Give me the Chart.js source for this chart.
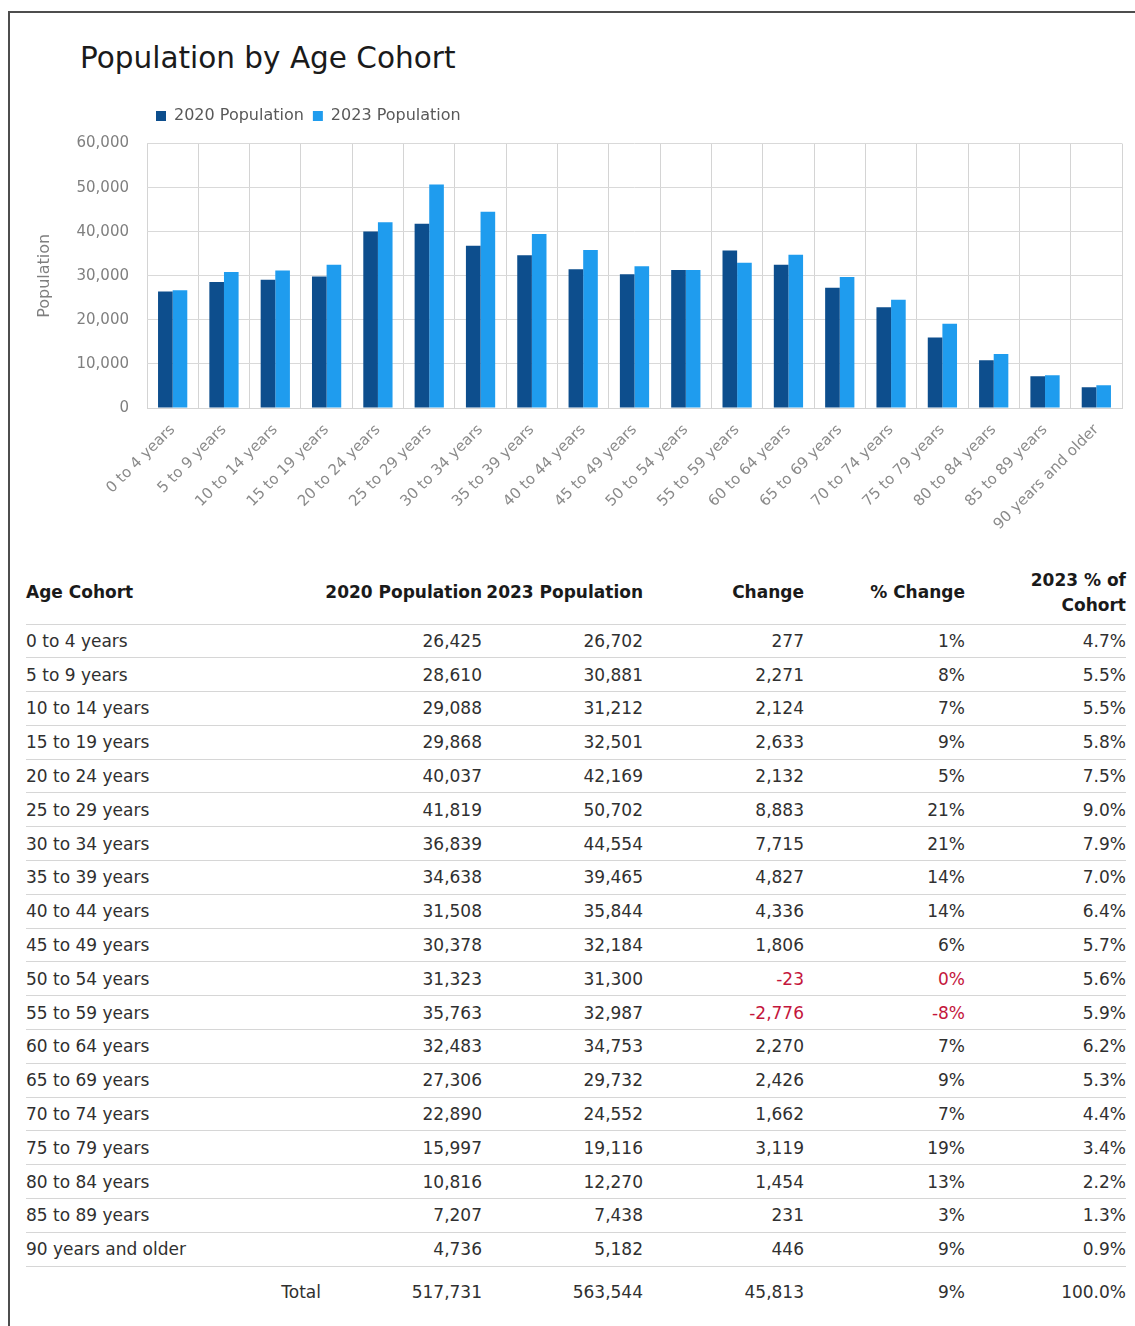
<!DOCTYPE html>
<html>
<head>
<meta charset="utf-8">
<script src="https://cdn.jsdelivr.net/npm/chart.js@4.4.1/dist/chart.umd.min.js"></script>
<style>
  body { margin: 0; background: #fff; width: 1135px; height: 1326px; position: relative; overflow: hidden; font-family: "DejaVu Sans", sans-serif; }
  #frame { position: absolute; left: 8px; top: 11px; width: 1127px; height: 1315px; border-top: 2px solid #4d4d4d; border-left: 2px solid #4d4d4d; box-sizing: border-box; }
  #title { position: absolute; left: 80px; top: 41px; font-size: 29.5px; line-height: 34px; color: #1a1a1a; white-space: nowrap; }
  #chartBox { position: absolute; left: 0; top: 0; width: 1135px; height: 560px; }
  #tbl { position: absolute; left: 26px; top: 562px; width: 1100px; border-collapse: collapse; table-layout: fixed; font-size: 17px; color: #303030; }
  #tbl td, #tbl th { padding: 0; text-align: right; vertical-align: middle; white-space: nowrap; }
  #tbl td:first-child, #tbl th:first-child { text-align: left; }
  #tbl thead tr { height: 62px; }
  #tbl thead th { font-weight: bold; color: #1a1a1a; line-height: 25px; border-bottom: 1px solid #d6d6d6; }
  #tbl tbody tr { height: 33.8px; }
  #tbl tbody td { border-bottom: 1px solid #d6d6d6; }
  #tbl tfoot tr { height: 52px; }
  #tbl tfoot td:first-child { text-align: right; }
  .neg { color: #c4163c; }
</style>
</head>
<body>
<div id="frame"></div>
<div id="title">Population by Age Cohort</div>
<div id="chartBox"><canvas id="chart"></canvas></div>
<table id="tbl">
  <colgroup>
    <col style="width:295px"><col style="width:161px"><col style="width:161px">
    <col style="width:161px"><col style="width:161px"><col style="width:161px">
  </colgroup>
  <thead></thead>
  <tbody></tbody>
  <tfoot></tfoot>
</table>
<script>
const cohorts = ['0 to 4 years', '5 to 9 years', '10 to 14 years', '15 to 19 years', '20 to 24 years',
  '25 to 29 years', '30 to 34 years', '35 to 39 years', '40 to 44 years', '45 to 49 years',
  '50 to 54 years', '55 to 59 years', '60 to 64 years', '65 to 69 years', '70 to 74 years',
  '75 to 79 years', '80 to 84 years', '85 to 89 years', '90 years and older'];
const pop2020 = [26425, 28610, 29088, 29868, 40037, 41819, 36839, 34638, 31508, 30378,
  31323, 35763, 32483, 27306, 22890, 15997, 10816, 7207, 4736];
const pop2023 = [26702, 30881, 31212, 32501, 42169, 50702, 44554, 39465, 35844, 32184,
  31300, 32987, 34753, 29732, 24552, 19116, 12270, 7438, 5182];
const change = [277, 2271, 2124, 2633, 2132, 8883, 7715, 4827, 4336, 1806,
  -23, -2776, 2270, 2426, 1662, 3119, 1454, 231, 446];
const pctChange = ['1%', '8%', '7%', '9%', '5%', '21%', '21%', '14%', '14%', '6%',
  '0%', '-8%', '7%', '9%', '7%', '19%', '13%', '3%', '9%'];
const pctOfCohort = ['4.7%', '5.5%', '5.5%', '5.8%', '7.5%', '9.0%', '7.9%', '7.0%', '6.4%', '5.7%',
  '5.6%', '5.9%', '6.2%', '5.3%', '4.4%', '3.4%', '2.2%', '1.3%', '0.9%'];
const headers = ['Age Cohort', '2020 Population', '2023 Population', 'Change', '% Change', '2023 % of<br>Cohort'];
const totals = ['Total', 517731, 563544, 45813, '9%', '100.0%'];
const yTicks = [0, 10000, 20000, 30000, 40000, 50000, 60000];

const fmt = n => typeof n === 'number' ? n.toLocaleString('en-US') : n;

function buildTable() {
  const thead = document.querySelector('#tbl thead');
  thead.innerHTML = '<tr>' + headers.map(h => `<th>${h}</th>`).join('') + '</tr>';

  const tbody = document.querySelector('#tbl tbody');
  cohorts.forEach((c, i) => {
    const neg = change[i] < 0 ? 'neg' : '';
    const tr = document.createElement('tr');
    tr.innerHTML = `<td>${c}</td><td>${fmt(pop2020[i])}</td><td>${fmt(pop2023[i])}</td>` +
      `<td class="${neg}">${fmt(change[i])}</td><td class="${neg}">${pctChange[i]}</td><td>${pctOfCohort[i]}</td>`;
    tbody.appendChild(tr);
  });

  document.querySelector('#tbl tfoot').innerHTML =
    '<tr>' + totals.map(t => `<td>${fmt(t)}</td>`).join('') + '</tr>';
}

function drawChart() {
  const ctx = document.getElementById('chart').getContext('2d');
  new Chart(ctx, {
    type: 'bar',
    data: {
      labels: cohorts,
      datasets: [
        { label: '2020 Population', data: pop2020, backgroundColor: '#0d4e8d', borderWidth: 0 },
        { label: '2023 Population', data: pop2023, backgroundColor: '#1f9cee', borderWidth: 0 }
      ]
    },
    options: {
      responsive: true,
      maintainAspectRatio: false,
      animation: false,
      datasets: { bar: { categoryPercentage: 0.57, barPercentage: 1.0 } },
      layout: { padding: { top: 99, left: 20, right: 13, bottom: 0 } },
      plugins: {
        legend: {
          position: 'top',
          align: 'start',
          fullSize: false,
          labels: {
            boxWidth: 10, boxHeight: 10, padding: 9,
            color: '#595959',
            font: { family: 'DejaVu Sans', size: 16 }
          }
        },
        // empty subtitle used as a gap between legend and plot
        subtitle: { display: true, text: '', weight: 500, padding: 0, font: { size: 8 } },
        tooltip: { enabled: false }
      },
      scales: {
        x: {
          grid: { color: '#d4d4d4', drawTicks: false },
          border: { color: '#d4d4d4' },
          ticks: {
            autoSkip: false, minRotation: 45, maxRotation: 45, padding: 13,
            color: '#8a8a8a', font: { family: 'DejaVu Sans', size: 15 }
          },
          afterFit: s => { s.height = 152; }
        },
        y: {
          min: 0, max: 60000,
          afterBuildTicks: s => { s.ticks = yTicks.map(v => ({ value: v })); },
          grid: { color: '#d9d9d9', drawTicks: false },
          border: { display: false },
          ticks: {
            padding: 18, color: '#7f7f7f', font: { family: 'DejaVu Sans', size: 15 },
            callback: v => v.toLocaleString('en-US')
          },
          title: {
            display: true, text: 'Population', color: '#7f7f7f',
            font: { family: 'DejaVu Sans', size: 16 }, padding: { top: 15, bottom: 0 }
          },
          afterFit: s => { s.width = 127; }
        }
      }
    }
  });
}

buildTable();
drawChart();
</script>
</body>
</html>
